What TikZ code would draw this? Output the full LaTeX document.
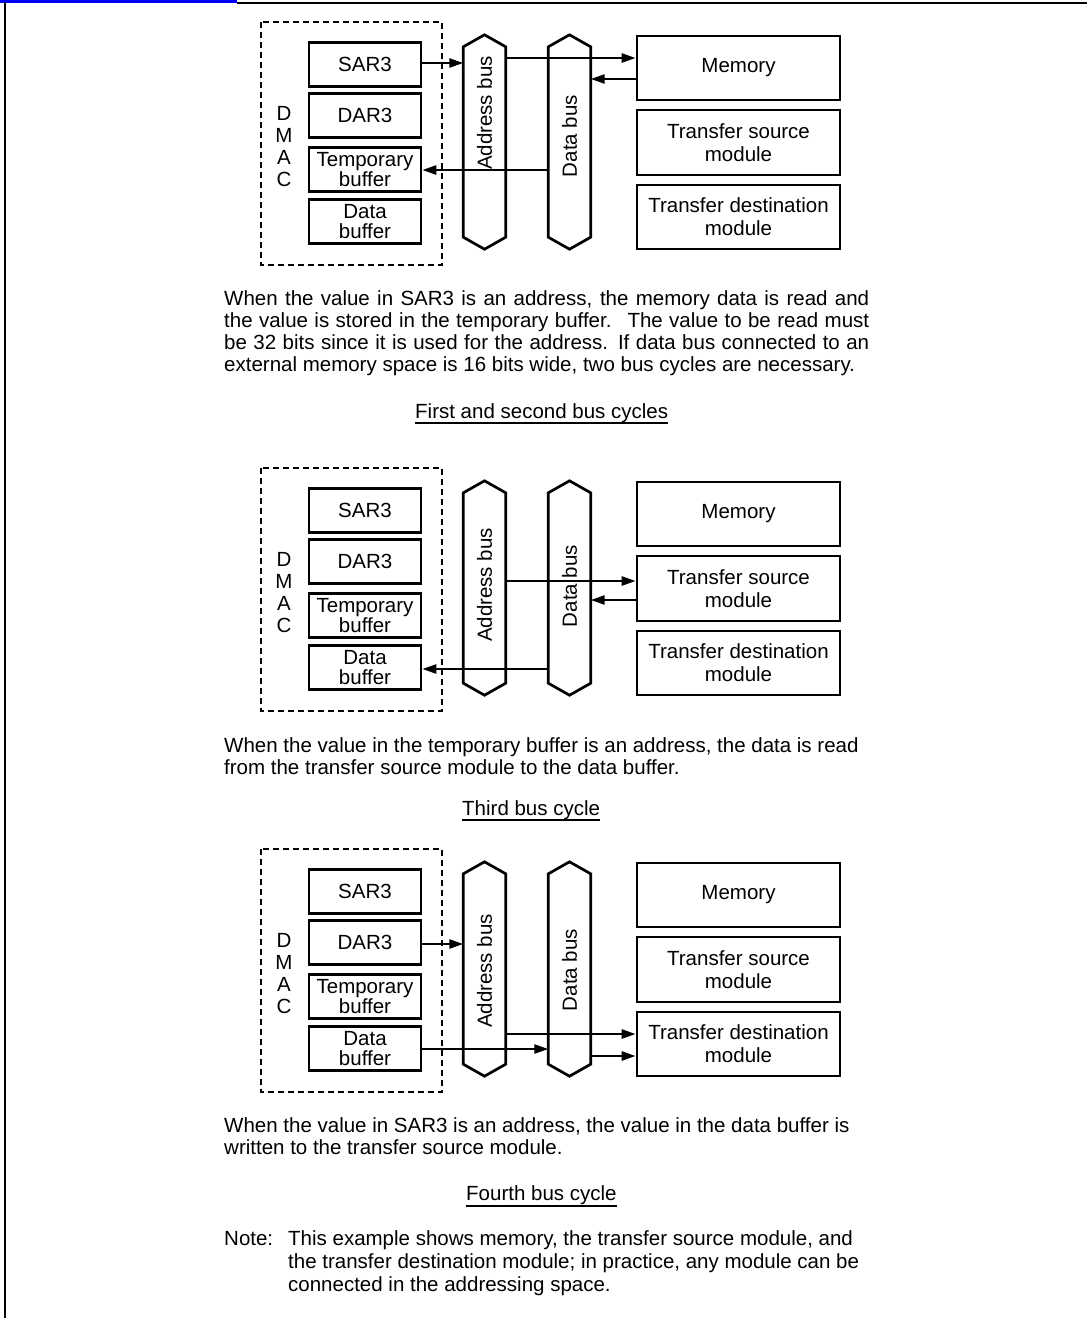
\documentclass[tikz,border=0pt]{standalone}
\usepackage{fontspec}
\setmainfont{Liberation Sans}
\usetikzlibrary{arrows.meta}

\newcommand*{\panelb}{446}
\newcommand*{\panelc}{827}

\begin{document}
\begin{tikzpicture}
[
	x=1pt, y=-1pt,
	font=\fontsize{20.5}{22}\selectfont,
	reg/.style={draw, line width=2.7pt, minimum width=112pt, minimum height=44pt, inner sep=0pt, align=center, font=\fontsize{20.5}{20}\selectfont},
	module/.style={draw, line width=2.7pt, minimum width=203pt, minimum height=64pt, inner sep=0pt, align=center, font=\fontsize{20.5}{23}\selectfont},
	bus/.style={minimum width=42pt, minimum height=190pt, inner sep=0pt},
	busline/.style={line width=2.7pt, line join=miter},
	buslabel/.style={rotate=90, inner sep=0pt},
	dmacbox/.style={line width=2.7pt, dash pattern=on 6pt off 4pt},
	arr/.style={-{Triangle[length=14pt,width=9pt]}, line width=2.5pt},
	para/.style={anchor=base west, inner sep=0pt, align=left},
	caption/.style={anchor=base west, inner sep=0pt},
	uline/.style={line width=1.6pt}
]
	\useasboundingbox (0,0) rectangle (1087,1318);

	% page frame
	\draw[blue, line width=3pt] (0,1.5) -- (237,1.5);
	\draw[line width=2.5pt] (237,3) -- (1087,3);
	\draw[line width=2.5pt] (5,2) -- (5,1318);

	% first and second bus cycles
	\draw[dmacbox] (261,22) rectangle (442,265);
	\node[align=center, inner sep=0pt] (dmac1) at (284,147) {D\\M\\A\\C};
	\node[reg] (sar1) at (365,64.5) {SAR3};
	\node[reg] (dar1) at (365,115.5) {DAR3};
	\node[reg] (tmp1) at (365,169.5) {Temporary\\buffer};
	\node[reg] (dbuf1) at (365,221.5) {Data\\buffer};
	\node[bus] (abus1) at (484.5,142) {};
	\node[bus] (dbus1) at (569.5,142) {};
	\draw[busline] (abus1.north west) -- ([yshift=12pt]abus1.north) -- (abus1.north east) -- (abus1.south east) -- ([yshift=-12pt]abus1.south) -- (abus1.south west) -- cycle;
	\draw[busline] (dbus1.north west) -- ([yshift=12pt]dbus1.north) -- (dbus1.north east) -- (dbus1.south east) -- ([yshift=-12pt]dbus1.south) -- (dbus1.south west) -- cycle;
	\node[buslabel] (alab1) at (484.5,113) {Address bus};
	\node[buslabel] (dlab1) at (569.5,136) {Data bus};
	\node[module] (mem1) at (738.5,68) {Memory};
	\node[module, minimum height=65pt] (src1) at (738.5,142.5) {Transfer source\\module};
	\node[module] (dst1) at (738.5,217) {Transfer destination\\module};
	\draw[arr] (sar1.east |- 0,63) -- (abus1.west |- 0,63);
	\draw[arr] (abus1.east |- 0,58) -- (mem1.west |- 0,58);
	\draw[arr] (mem1.west |- 0,79) -- (dbus1.east |- 0,79);
	\draw[arr] (dbus1.west |- 0,170) -- (tmp1.east |- 0,170);
	\node[para, text width=645pt, align=justify] (txt1) at (224,305) {When the value in SAR3 is an address, the memory data is read and\linebreak the value is stored in the temporary buffer.~ The value to be read must\linebreak be 32 bits since it is used for the address. If data bus connected to an\linebreak external memory space is 16 bits wide, two bus cycles are necessary.};
	\node[caption] (cap1) at (415,418) {First and second bus cycles\hspace{4pt}};
	\draw[uline] (cap1.base west |- 0,423) -- (cap1.base east |- 0,423);

	% third bus cycle
	\begin{scope}[shift={(0,\panelb)}]
	\draw[dmacbox] (261,22) rectangle (442,265);
	\node[align=center, inner sep=0pt] (dmac2) at (284,147) {D\\M\\A\\C};
	\node[reg] (sar2) at (365,64.5) {SAR3};
	\node[reg] (dar2) at (365,115.5) {DAR3};
	\node[reg] (tmp2) at (365,169.5) {Temporary\\buffer};
	\node[reg] (dbuf2) at (365,221.5) {Data\\buffer};
	\node[bus] (abus2) at (484.5,142) {};
	\node[bus] (dbus2) at (569.5,142) {};
	\draw[busline] (abus2.north west) -- ([yshift=12pt]abus2.north) -- (abus2.north east) -- (abus2.south east) -- ([yshift=-12pt]abus2.south) -- (abus2.south west) -- cycle;
	\draw[busline] (dbus2.north west) -- ([yshift=12pt]dbus2.north) -- (dbus2.north east) -- (dbus2.south east) -- ([yshift=-12pt]dbus2.south) -- (dbus2.south west) -- cycle;
	\node[buslabel] (alab2) at (484.5,139) {Address bus};
	\node[buslabel] (dlab2) at (569.5,140) {Data bus};
	\node[module] (mem2) at (738.5,68) {Memory};
	\node[module, minimum height=65pt] (src2) at (738.5,142.5) {Transfer source\\module};
	\node[module] (dst2) at (738.5,217) {Transfer destination\\module};
	\draw[arr] (abus2.east |- 0,135) -- (src2.west |- 0,135);
	\draw[arr] (src2.west |- 0,154) -- (dbus2.east |- 0,154);
	\draw[arr] (dbus2.west |- 0,223) -- (dbuf2.east |- 0,223);
	% base of a multi-line node is its last line
	\node[para] (txt2) at (224,328) {When the value in the temporary buffer is an address, the data is read\\from the transfer source module to the data buffer.};
	\node[caption] (cap2) at (462,369) {Third bus cycle\hspace{4pt}};
	\draw[uline] (cap2.base west |- 0,374) -- (cap2.base east |- 0,374);
	\end{scope}

	% fourth bus cycle
	\begin{scope}[shift={(0,\panelc)}]
	\draw[dmacbox] (261,22) rectangle (442,265);
	\node[align=center, inner sep=0pt] (dmac3) at (284,147) {D\\M\\A\\C};
	\node[reg] (sar3) at (365,64.5) {SAR3};
	\node[reg] (dar3) at (365,115.5) {DAR3};
	\node[reg] (tmp3) at (365,169.5) {Temporary\\buffer};
	\node[reg] (dbuf3) at (365,221.5) {Data\\buffer};
	\node[bus] (abus3) at (484.5,142) {};
	\node[bus] (dbus3) at (569.5,142) {};
	\draw[busline] (abus3.north west) -- ([yshift=12pt]abus3.north) -- (abus3.north east) -- (abus3.south east) -- ([yshift=-12pt]abus3.south) -- (abus3.south west) -- cycle;
	\draw[busline] (dbus3.north west) -- ([yshift=12pt]dbus3.north) -- (dbus3.north east) -- (dbus3.south east) -- ([yshift=-12pt]dbus3.south) -- (dbus3.south west) -- cycle;
	\node[buslabel] (alab3) at (484.5,144) {Address bus};
	\node[buslabel] (dlab3) at (569.5,143) {Data bus};
	\node[module] (mem3) at (738.5,68) {Memory};
	\node[module, minimum height=65pt] (src3) at (738.5,142.5) {Transfer source\\module};
	\node[module] (dst3) at (738.5,217) {Transfer destination\\module};
	\draw[arr] (dar3.east |- 0,117) -- (abus3.west |- 0,117);
	\draw[arr] (abus3.east |- 0,207) -- (dst3.west |- 0,207);
	\draw[arr] (dbuf3.east |- 0,222) -- (dbus3.west |- 0,222);
	\draw[arr] (dbus3.east |- 0,229) -- (dst3.west |- 0,229);
	\node[para] (txt3) at (224,327) {When the value in SAR3 is an address, the value in the data buffer is\\written to the transfer source module.};
	\node[caption] (cap3) at (466,373) {Fourth bus cycle\hspace{4pt}};
	\draw[uline] (cap3.base west |- 0,379) -- (cap3.base east |- 0,379);
	\end{scope}

	% note
	\node[caption] (notehd) at (224,1245) {Note:};
	\node[para, font=\fontsize{20.5}{23}\selectfont] (note) at (288,1291) {This example shows memory, the transfer source module, and\\the transfer destination module; in practice, any module can be\\connected in the addressing space.};

\end{tikzpicture}
\end{document}
